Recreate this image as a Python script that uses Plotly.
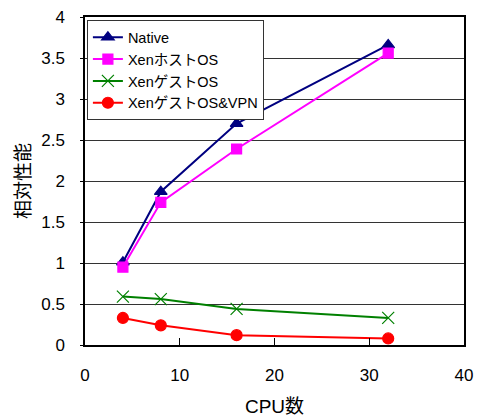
import plotly.graph_objects as go

# CPU counts and relative performance per configuration
cpus = [4, 8, 16, 32]
native = [1.01, 1.87, 2.70, 3.66]
xen_host = [0.95, 1.74, 2.39, 3.56]
xen_guest = [0.59, 0.56, 0.44, 0.33]
xen_guest_vpn = [0.33, 0.24, 0.12, 0.08]

series = [
    ("Native", native, "#000080", "triangle-up", 11),
    ("XenホストOS", xen_host, "#FF00FF", "square", 10),
    ("XenゲストOS", xen_guest, "#008000", "x-thin-open", 12),
    ("XenゲストOS&VPN", xen_guest_vpn, "#FF0000", "circle", 11),
]

font_family = "Liberation Sans, Arial, Noto Sans CJK JP, sans-serif"

fig = go.Figure()
for name, vals, color, sym, size in series:
    fig.add_trace(go.Scatter(
        x=cpus, y=vals, name=name, mode="lines+markers",
        line=dict(color=color, width=2),
        marker=dict(symbol=sym, size=size, color=color,
                    line=dict(color=color, width=1.2)),
    ))

fig.update_layout(
    width=478, height=419,
    margin=dict(l=85, r=14, t=17, b=74),
    paper_bgcolor="white", plot_bgcolor="white",
    font=dict(family=font_family, color="black", size=17),
    showlegend=True,
    legend=dict(
        x=0.005, y=0.99, xanchor="left", yanchor="top",
        bgcolor="white", bordercolor="#333333", borderwidth=1,
        font=dict(size=14.5, family=font_family),
        itemwidth=30, tracegroupgap=0,
    ),
    xaxis=dict(
        range=[0, 40], tickvals=[0, 10, 20, 30, 40],
        showgrid=False, zeroline=False, automargin=False,
        showline=True, linecolor="black", linewidth=1.5, mirror=True,
        ticks="inside", ticklen=7, tickcolor="black",
        ticklabelstandoff=14,
        title=dict(text="CPU数", font=dict(size=19), standoff=16),
    ),
    yaxis=dict(
        range=[0, 4], dtick=0.5, tickformat="~g",
        showgrid=True, gridcolor="#333333", gridwidth=1,
        zeroline=False, automargin=False,
        showline=True, linecolor="black", linewidth=1.5, mirror=True,
        ticks="outside", ticklen=3, tickcolor="black",
        ticklabelstandoff=12,
        title=dict(text="相対性能", font=dict(size=19), standoff=6),
    ),
)

fig.write_html("out.html")
